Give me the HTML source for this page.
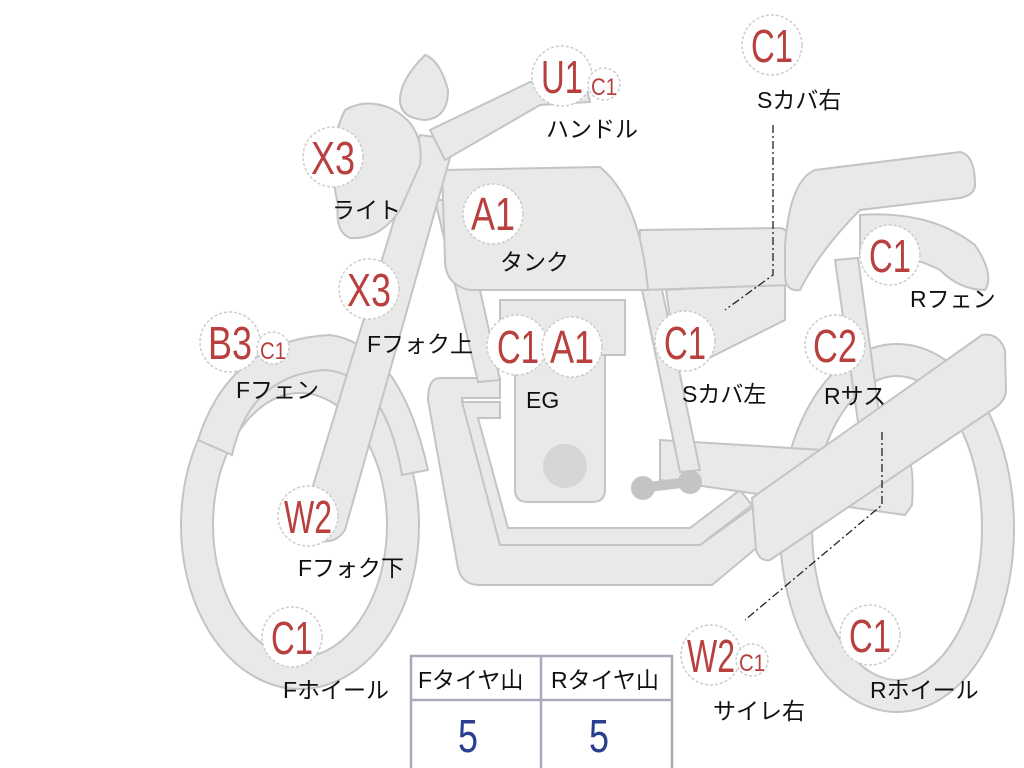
<!DOCTYPE html>
<html><head><meta charset="utf-8"><style>
html,body{margin:0;padding:0;background:#fff;width:1024px;height:768px;overflow:hidden}
svg{display:block}
.b{fill:#e9e9e7;stroke:#c4c4c4;stroke-width:2}
.r{font-family:"Liberation Sans",sans-serif;fill:#b8403e;text-anchor:middle}
.j{font-family:"Liberation Sans","Noto Sans CJK JP",sans-serif;fill:#111;font-size:23px}
.c{fill:#fff;stroke:#ccc;stroke-width:1.5;stroke-dasharray:3 2}
</style></head><body>
<svg width="1024" height="768" viewBox="0 0 1024 768">
<ellipse cx="300" cy="525" rx="103" ry="148" fill="none" stroke="#c4c4c4" stroke-width="34"/>
<ellipse cx="300" cy="525" rx="103" ry="148" fill="none" stroke="#e9e9e7" stroke-width="30"/>
<ellipse cx="897" cy="528" rx="101" ry="168" fill="none" stroke="#c4c4c4" stroke-width="34"/>
<ellipse cx="897" cy="528" rx="101" ry="168" fill="none" stroke="#e9e9e7" stroke-width="30"/>
<path class="b" d="M198,440 Q230,340 330,335 Q400,345 428,470 L402,475 Q385,375 325,370 Q250,375 232,455 Z"/>
<path class="b" d="M440,378 L500,378 L500,398 L462,398 L500,545 L700,545 L770,495 L790,520 L712,585 L480,585 Q462,585 458,568 L428,400 Q428,378 440,378 Z"/>
<path class="b" d="M462,402 L500,402 L500,418 L478,418 L508,528 L690,528 L740,490 L752,505 L700,545 L500,545 Z" fill="#f4f4f3"/>
<path class="b" d="M660,440 L905,455 Q915,460 912,505 L905,515 L660,480 Z"/>
<path class="b" d="M500,300 L625,300 L625,355 L500,355 Z"/>
<path class="b" d="M515,355 L605,355 L605,490 Q605,502 592,502 L528,502 Q515,502 515,490 Z"/>
<circle cx="565" cy="466" r="22" fill="#d6d6d6"/>
<path class="b" d="M435,200 L460,200 L500,380 L478,382 Z"/>
<path class="b" d="M640,280 L660,280 L700,470 L680,472 Z"/>
<path class="b" d="M666,290 L785,282 L785,320 L705,360 L676,360 Z"/>
<path d="M640,488 L690,482" stroke="#c4c4c4" stroke-width="10"/>
<circle cx="643" cy="488" r="12" fill="#c4c4c4"/><circle cx="690" cy="482" r="12" fill="#c4c4c4"/>
<path class="b" d="M835,260 L858,258 L880,420 L858,422 Z"/>
<path class="b" d="M640,230 L780,228 Q790,230 790,240 L790,285 L645,290 Q638,288 638,280 Z"/>
<path class="b" d="M860,215 Q930,210 975,245 Q995,275 985,290 Q960,290 940,270 Q900,250 860,255 Z"/>
<path class="b" d="M785,245 Q790,180 815,170 L960,152 Q975,155 975,185 Q975,195 960,198 L860,210 Q820,250 800,290 Q785,292 785,275 Z"/>
<path class="b" d="M442,170 L600,167 Q640,200 648,290 L470,290 Q445,285 445,260 Z"/>
<path class="b" d="M752,498 L982,335 Q998,332 1005,350 L1006,392 Q1004,402 995,408 L770,560 Q760,562 756,550 Z"/>
<path class="b" d="M420,135 L455,140 L345,530 Q335,545 318,540 L298,535 Z"/>
<path class="b" d="M345,110 Q365,98 390,108 Q425,125 420,165 L400,210 Q380,240 350,238 Q335,232 338,205 Q325,150 345,110 Z"/>
<path class="b" d="M425,55 Q440,60 448,90 Q448,118 425,120 Q400,118 400,100 Q400,80 425,55 Z"/>
<path class="b" d="M430,130 L530,82 L585,82 L590,102 L540,105 L445,160 Z"/>
<path d="M773,125 L773,275 L725,310" fill="none" stroke="#222" stroke-width="1.3" stroke-dasharray="8 3 2 3"/>
<path d="M882,432 L882,505 L745,620" fill="none" stroke="#222" stroke-width="1.3" stroke-dasharray="8 3 2 3"/>
<g>
<circle class="c" cx="562" cy="76" r="30"/><circle class="c" cx="604" cy="84" r="16"/>
<circle class="c" cx="772" cy="45" r="30"/>
<circle class="c" cx="333" cy="157" r="30"/>
<circle class="c" cx="493" cy="214" r="30"/>
<circle class="c" cx="369" cy="289" r="30"/>
<circle class="c" cx="230" cy="342" r="30"/><circle class="c" cx="273" cy="348" r="16"/>
<circle class="c" cx="517" cy="345" r="30"/><circle class="c" cx="572" cy="347" r="30"/>
<circle class="c" cx="685" cy="341" r="30"/>
<circle class="c" cx="835" cy="345" r="30"/>
<circle class="c" cx="890" cy="255" r="30"/>
<circle class="c" cx="308" cy="516" r="30"/>
<circle class="c" cx="292" cy="637" r="30"/>
<circle class="c" cx="711" cy="655" r="30"/><circle class="c" cx="752" cy="660" r="16"/>
<circle class="c" cx="870" cy="635" r="30"/>
</g>
<g class="r" font-size="46">
<text x="541" y="93" textLength="42" lengthAdjust="spacingAndGlyphs" text-anchor="start">U1</text>
<text x="591" y="95" font-size="24" textLength="26" lengthAdjust="spacingAndGlyphs" text-anchor="start">C1</text>
<text x="751" y="62" textLength="42" lengthAdjust="spacingAndGlyphs" text-anchor="start">C1</text>
<text x="311" y="174" textLength="44" lengthAdjust="spacingAndGlyphs" text-anchor="start">X3</text>
<text x="471" y="230" textLength="44" lengthAdjust="spacingAndGlyphs" text-anchor="start">A1</text>
<text x="347" y="306" textLength="44" lengthAdjust="spacingAndGlyphs" text-anchor="start">X3</text>
<text x="208" y="359" textLength="44" lengthAdjust="spacingAndGlyphs" text-anchor="start">B3</text>
<text x="260" y="359" font-size="24" textLength="26" lengthAdjust="spacingAndGlyphs" text-anchor="start">C1</text>
<text x="497" y="363" textLength="42" lengthAdjust="spacingAndGlyphs" text-anchor="start">C1</text>
<text x="550" y="363" textLength="44" lengthAdjust="spacingAndGlyphs" text-anchor="start">A1</text>
<text x="664" y="359" textLength="42" lengthAdjust="spacingAndGlyphs" text-anchor="start">C1</text>
<text x="813" y="362" textLength="44" lengthAdjust="spacingAndGlyphs" text-anchor="start">C2</text>
<text x="869" y="272" textLength="42" lengthAdjust="spacingAndGlyphs" text-anchor="start">C1</text>
<text x="284" y="533" textLength="48" lengthAdjust="spacingAndGlyphs" text-anchor="start">W2</text>
<text x="271" y="654" textLength="42" lengthAdjust="spacingAndGlyphs" text-anchor="start">C1</text>
<text x="687" y="672" textLength="48" lengthAdjust="spacingAndGlyphs" text-anchor="start">W2</text>
<text x="739" y="671" font-size="24" textLength="26" lengthAdjust="spacingAndGlyphs" text-anchor="start">C1</text>
<text x="849" y="652" textLength="42" lengthAdjust="spacingAndGlyphs" text-anchor="start">C1</text>
</g>
<g class="j">
<text x="546" y="137">ハンドル</text>
<text x="757" y="108">Sカバ右</text>
<text x="332" y="218">ライト</text>
<text x="500" y="270">タンク</text>
<text x="367" y="352">Fフォク上</text>
<text x="236" y="398">Fフェン</text>
<text x="526" y="408">EG</text>
<text x="682" y="402">Sカバ左</text>
<text x="824" y="404">Rサス</text>
<text x="910" y="307">Rフェン</text>
<text x="298" y="576">Fフォク下</text>
<text x="283" y="698">Fホイール</text>
<text x="713" y="719">サイレ右</text>
<text x="870" y="698">Rホイール</text>
</g>
<g fill="none" stroke="#aab" stroke-width="2.5">
<rect x="411" y="656" width="261" height="115"/>
<line x1="411" y1="700" x2="672" y2="700"/>
<line x1="541" y1="656" x2="541" y2="770"/>
</g>
<text class="j" x="418" y="688">Fタイヤ山</text>
<text class="j" x="551" y="688">Rタイヤ山</text>
<g font-family="Liberation Sans,sans-serif" font-size="46" fill="#2a3f8f">
<text x="458" y="752" textLength="20" lengthAdjust="spacingAndGlyphs">5</text>
<text x="589" y="752" textLength="20" lengthAdjust="spacingAndGlyphs">5</text>
</g>
</svg>
</body></html>
